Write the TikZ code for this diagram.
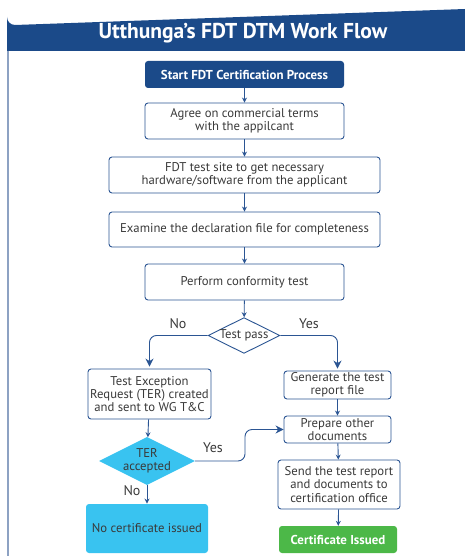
\documentclass[tikz,border=0pt]{standalone}
\usepackage{fontspec}
\setmainfont{PT Sans}
\usetikzlibrary{shapes.geometric,arrows.meta}
\definecolor{hdrblue}{HTML}{1B4A89}
\definecolor{boxblue}{HTML}{2B5593}
\definecolor{frameblue}{HTML}{8DA2C3}
\definecolor{txtgray}{HTML}{3A3A3A}
\definecolor{cyanfill}{HTML}{39C3F0}
\definecolor{certgreen}{HTML}{4CB848}
\tikzset{
  procbox/.style={draw=boxblue, line width=0.9pt, rounded corners=3pt, fill=white,
    align=center, inner sep=0pt, text=txtgray, font=\fontsize{12.7}{13.4}\selectfont},
  startbox/.style={fill=hdrblue, rounded corners=3pt, align=center, inner sep=0pt,
    text=white, font=\fontsize{12.9}{14}\selectfont\bfseries},
  decision/.style={diamond, aspect=2, inner sep=0pt, align=center, text=txtgray,
    font=\fontsize{12.7}{12.5}\selectfont},
  lbl/.style={text=txtgray, font=\fontsize{14}{16}\selectfont, inner sep=0pt},
  arr/.style={draw=boxblue, line width=0.9pt, -{Stealth[length=5pt,width=5pt]}},
  bigarr/.style={draw=boxblue, line width=0.9pt, rounded corners=7pt, -{Stealth[length=8pt,width=8pt]}},
}
\begin{document}
\begin{tikzpicture}[x=1pt,y=-1pt]
\useasboundingbox (0,0) rectangle (465,556);
% header and frame
\fill[hdrblue] (7,51) -- (7,17) arc[start angle=180,end angle=90,radius=8] -- (465,9) -- (465,51) -- cycle;
\draw[frameblue, line width=1.4pt] (8,51) -- (8,556);
\node[text=white, font=\fontsize{21.5}{24}\selectfont\bfseries, inner sep=0pt] (title) at (243,33) {Utthunga’s FDT DTM Work Flow};
% nodes
\node[startbox, minimum width=199pt, minimum height=27pt] (start) at (244.5,74.5) {Start FDT Certification Process};
\node[procbox, minimum width=199pt, minimum height=36pt] (agree) at (244.5,121) {Agree on commercial terms\\with the appilcant};
\node[procbox, minimum width=271pt, minimum height=36pt] (site) at (244.5,175) {FDT test site to get necessary\\hardware/software from the applicant};
\node[procbox, minimum width=271pt, minimum height=35pt] (exam) at (244.5,229.5) {Examine the declaration file for completeness};
\node[procbox, minimum width=199pt, minimum height=36pt] (perf) at (244.5,282) {Perform conformity test};
\node[decision, draw=boxblue, line width=0.9pt, fill=white, minimum width=70pt, minimum height=33pt] (tp) at (244,335.5) {Test pass};
\node[procbox, minimum width=123pt, minimum height=50pt] (ter) at (149.5,394) {Test Exception\\Request (TER) created\\and sent to WG T\&C};
\node[procbox, minimum width=107pt, minimum height=28pt] (gen) at (337.5,385) {Generate the test\\report file};
\node[procbox, minimum width=107pt, minimum height=27pt] (prep) at (337.5,429.5) {Prepare other\\documents};
\node[procbox, minimum width=122pt, minimum height=49pt] (send) at (339,484.5) {Send the test report\\and documents to\\certification office};
\node[startbox, fill=certgreen, minimum width=118pt, minimum height=27pt] (cert) at (338,539.5) {Certificate Issued};
\node[decision, fill=cyanfill, minimum width=92pt, minimum height=48pt] (terdec) at (147,461) {TER\\accepted};
\node[procbox, draw=none, fill=cyanfill, minimum width=122pt, minimum height=49pt] (nocert) at (147,528.5) {No certificate issued};
% labels
\node[lbl] (lno1) at (178,324) {No};
\node[lbl] (lyes1) at (309,324) {Yes};
\node[lbl] (lyes2) at (213,448) {Yes};
\node[lbl] (lno2) at (132,491) {No};
% connectors
\draw[arr] (start) -- (agree);
\draw[arr] (agree) -- (site);
\draw[arr] (site) -- (exam);
\draw[arr] (exam) -- (perf);
\draw[arr] (perf) -- (tp);
\draw[bigarr, shorten >=2pt] (tp.west) -| (ter.north);
\draw[bigarr, shorten >=2pt] (tp.east) -| (gen.north);
\draw[arr] (gen) -- (prep);
\draw[arr] (prep) -- (send);
\draw[arr] (send) -- (cert);
\draw[arr] (ter) -- (terdec);
\draw[arr] (terdec) -- (nocert);
\coordinate (yturn) at (245,461);
\draw[bigarr] (terdec.east) -- (yturn) |- (prep.west);
\end{tikzpicture}
\end{document}
